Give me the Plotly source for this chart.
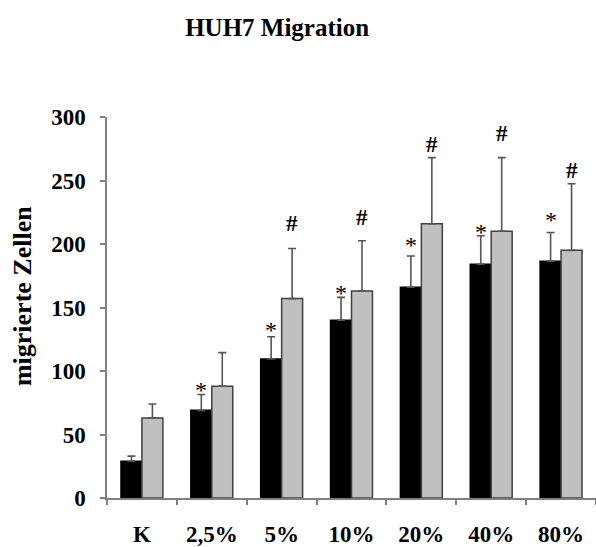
import plotly.graph_objects as go

# Konzentrationen und Mittelwerte der migrierten Zellen
categories = ["K", "2,5%", "5%", "10%", "20%", "40%", "80%"]
black_vals = [29, 69, 109.5, 140, 166, 184, 186.5]
black_err = [4, 12.5, 17.5, 18, 24.5, 22.5, 22.5]
gray_vals = [63, 88, 157, 163, 216, 210, 195]
gray_err = [11, 26.5, 39.5, 39.5, 52, 58, 52.5]

# Signifikanzmarken: (Kategorie, Höhe der Marke)
star_marks = [("2,5%", 89), ("5%", 136), ("10%", 165.5), ("20%", 203), ("40%", 213.5), ("80%", 222.5)]
hash_marks = [("5%", 216.5), ("10%", 220.5), ("20%", 278), ("40%", 287), ("80%", 258)]

FONT = "Liberation Serif"
AXIS_COLOR = "#7f7f7f"

fig = go.Figure()
fig.add_trace(go.Bar(
    x=categories, y=black_vals, name="schwarz",
    marker=dict(color="#000000", line=dict(color="#000000", width=1.5)),
    error_y=dict(type="data", array=black_err, arrayminus=[0] * len(black_err),
                 symmetric=False, color="#555555", thickness=1.6, width=4),
))
fig.add_trace(go.Bar(
    x=categories, y=gray_vals, name="grau",
    marker=dict(color="#c0c0c0", line=dict(color="#404040", width=1.5)),
    error_y=dict(type="data", array=gray_err, arrayminus=[0] * len(gray_err),
                 symmetric=False, color="#555555", thickness=1.6, width=4),
))

annotations = []
for cat, yv in star_marks:
    annotations.append(dict(x=cat, y=yv, xref="x", yref="y", text="*", showarrow=False,
                            xshift=-10.5, yshift=-5, font=dict(family=FONT, size=24, color="#000")))
for cat, yv in hash_marks:
    annotations.append(dict(x=cat, y=yv, xref="x", yref="y", text="<b>#</b>", showarrow=False,
                            xshift=10.5, font=dict(family=FONT, size=23, color="#000")))

# y-axis title, rotated, slightly above the plot-area centre
annotations.append(dict(x=0, y=0.53, xref="paper", yref="paper", yanchor="middle", xanchor="center",
                        text="<b>migrierte Zellen</b>", textangle=-90, showarrow=False,
                        xshift=-85, font=dict(family=FONT, size=26, color="#000")))

fig.update_layout(
    width=596, height=547,
    margin=dict(l=107, r=0, t=117, b=49),
    paper_bgcolor="white", plot_bgcolor="white",
    barmode="group", bargap=0.4, bargroupgap=0,
    showlegend=False,
    title=dict(text="<b>HUH7 Migration</b>", x=0.465, xanchor="center", y=0.95, yanchor="middle",
               font=dict(family=FONT, size=25, color="#000")),
    annotations=annotations,
    xaxis=dict(
        type="category", showline=True, linecolor=AXIS_COLOR, linewidth=1.5,
        ticks="outside", tickson="boundaries", ticklen=5, tickcolor=AXIS_COLOR, tickwidth=1.5,
        showgrid=False, zeroline=False, ticklabelstandoff=15,
        tickfont=dict(family=FONT, size=23, color="#000"),
        tickvals=categories, ticktext=["<b>%s</b>" % c for c in categories],
    ),
    yaxis=dict(
        range=[0, 300], tickvals=[0, 50, 100, 150, 200, 250, 300],
        ticktext=["<b>%d</b>" % v for v in [0, 50, 100, 150, 200, 250, 300]],
        showline=True, linecolor=AXIS_COLOR, linewidth=1.5,
        ticks="outside", ticklen=5, tickcolor=AXIS_COLOR, tickwidth=1.5,
        showgrid=False, zeroline=False, ticklabelstandoff=10,
        tickfont=dict(family=FONT, size=23, color="#000"),
    ),
)

fig.write_html("out.html")
